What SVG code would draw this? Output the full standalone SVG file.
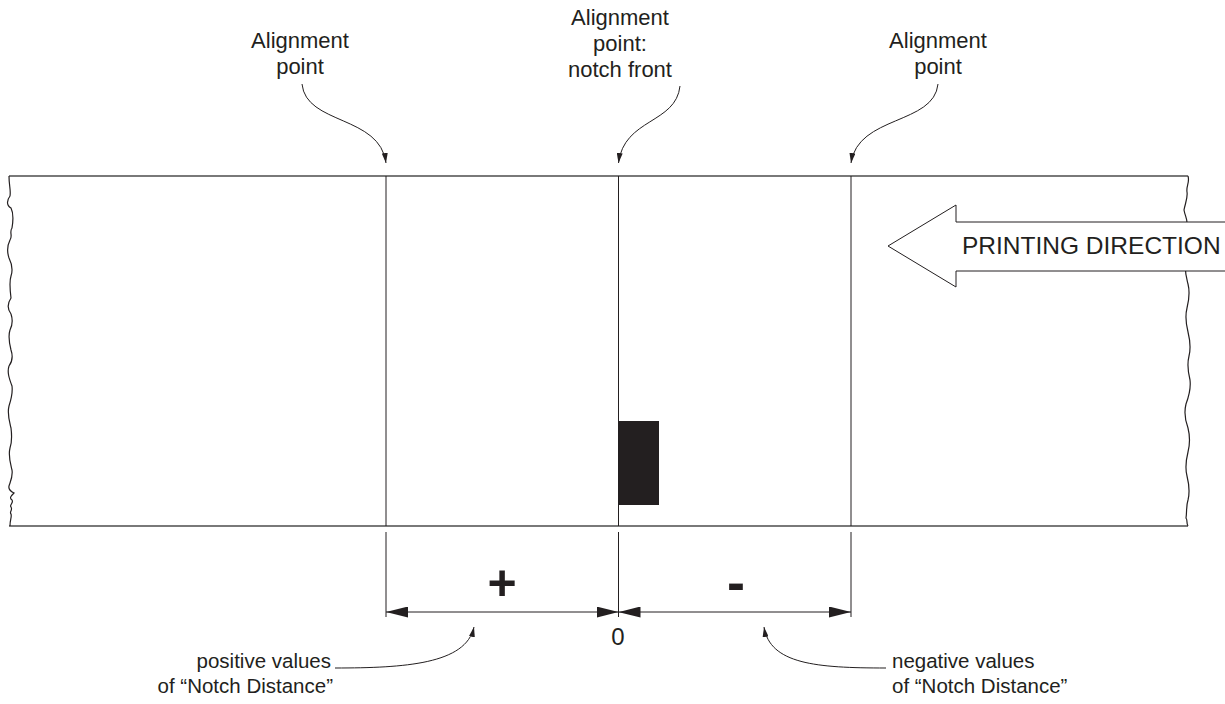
<svg xmlns="http://www.w3.org/2000/svg" width="1225" height="704" viewBox="0 0 1225 704">
<style>
text{font-family:"Liberation Sans",Arial,sans-serif;fill:#231f20}
.t{font-size:22px;text-anchor:middle}
.b{font-size:20.5px}
.ln{stroke:#231f20;stroke-width:1;fill:none}
.edge{stroke:#231f20;stroke-width:1.2;fill:none}
</style>
<defs>
<marker id="sa" viewBox="0 0 10 6" refX="10" refY="3" markerWidth="10" markerHeight="6" markerUnits="userSpaceOnUse" orient="auto"><path d="M0,0 L10,3 L0,6 Z" fill="#231f20"/></marker>
<marker id="da" viewBox="0 0 22 11" refX="22" refY="5.5" markerWidth="22" markerHeight="11" markerUnits="userSpaceOnUse" orient="auto"><path d="M0,0 L22,5.5 L0,11 Z" fill="#231f20"/></marker>
</defs>
<g id="strip">
<line x1="9" y1="176" x2="1188" y2="176" stroke="#4d4d4d" stroke-width="1.5"/>
<line x1="9" y1="526" x2="1188" y2="526" stroke="#4d4d4d" stroke-width="1.5"/>
<path class="edge" d="M9,176 C9,186 11,190 10,196 C7,200 6,205 11,208 C14,214 13,222 12,228 C9,232 13,236 10,240 C7,246 7,252 9,258 C12,264 13,270 11,276 C9,282 10,290 11,298 C7,304 8,310 11,314 C13,320 12,326 10,330 C8,336 9,342 11,350 C13,356 12,362 9,366 C7,372 9,378 12,386 C13,394 11,400 9,406 C7,414 9,420 11,428 C12,436 12,442 10,448 C8,456 10,462 12,470 C13,476 11,480 9,486 C8,490 12,492 14,493 C11,496 9,498 12,500 C14,503 9,505 11,507 C13,510 9,512 11,514 C12,517 10,519 10,526"/>
<path class="edge" d="M1188,176 C1190,182 1186,186 1187,192 C1188,198 1185,204 1184,210 C1185,216 1188,220 1187,226 C1186,240 1188,250 1186,262 C1184,270 1186,276 1188,284 C1190,292 1189,300 1187,308 C1185,316 1186,324 1188,332 C1190,340 1191,348 1189,356 C1187,364 1188,372 1190,380 C1191,388 1189,396 1186,404 C1184,412 1185,420 1188,428 C1190,436 1190,444 1188,452 C1186,460 1185,468 1187,476 C1189,484 1190,492 1188,500 C1186,506 1187,512 1186,518 C1188,521 1186,523 1188,526"/>
</g>
<g id="lines">
<line class="ln" x1="386" y1="176" x2="386" y2="526"/>
<line class="ln" x1="618.5" y1="176" x2="618.5" y2="526"/>
<line class="ln" x1="851" y1="176" x2="851" y2="526"/>
</g>
<g id="notch">
<rect x="619" y="421" width="40" height="84" fill="#231f20"/>
</g>
<g id="printing-direction">
<path d="M888,246 L956,205 L956,222 L1230,222 L1230,271 L956,271 L956,287 Z" fill="#fff" stroke="#231f20" stroke-width="1"/>
<text x="962" y="254" style="font-size:24.5px">PRINTING DIRECTION</text>
</g>
<g id="label-left">
<text class="t" x="300" y="48">Alignment</text>
<text class="t" x="300" y="74">point</text>
</g>
<g id="label-middle">
<text class="t" x="620" y="25">Alignment</text>
<text class="t" x="620" y="51">point:</text>
<text class="t" x="620" y="77">notch front</text>
</g>
<g id="label-right">
<text class="t" x="938" y="48">Alignment</text>
<text class="t" x="938" y="74">point</text>
</g>
<g id="dimension">
<line class="ln" x1="386" y1="532" x2="386" y2="617"/>
<line class="ln" x1="618.5" y1="532" x2="618.5" y2="617"/>
<line class="ln" x1="851" y1="532" x2="851" y2="617"/>
<text x="502" y="600" style="font-size:50px;font-weight:bold;text-anchor:middle">+</text>
<text x="736" y="601" style="font-size:54px;font-weight:bold;text-anchor:middle">-</text>
<text x="618" y="645" style="font-size:24px;text-anchor:middle">0</text>
</g>
<g id="label-positive">
<text class="b" x="331" y="668" text-anchor="end">positive values</text>
<text class="b" x="333" y="693" text-anchor="end">of “Notch Distance”</text>
</g>
<g id="label-negative">
<text class="b" x="892" y="668">negative values</text>
<text class="b" x="892" y="693">of “Notch Distance”</text>
</g>
<g id="connectors">
<path class="ln" d="M302,84 C306,125 380,115 386,163" marker-end="url(#sa)"/>
<path class="ln" d="M680,86 C676,124 624,118 618.5,163" marker-end="url(#sa)"/>
<path class="ln" d="M938,84 C934,125 858,115 851,163" marker-end="url(#sa)"/>
<line class="ln" x1="500" y1="612" x2="386" y2="612" marker-end="url(#da)"/>
<line class="ln" x1="500" y1="612" x2="618.5" y2="612" marker-end="url(#da)"/>
<line class="ln" x1="735" y1="612" x2="618.5" y2="612" marker-end="url(#da)"/>
<line class="ln" x1="735" y1="612" x2="851" y2="612" marker-end="url(#da)"/>
<path class="ln" d="M335,668 C405,668 466,664 474,627" marker-end="url(#sa)"/>
<path class="ln" d="M886,668 C816,668 770,664 764,627" marker-end="url(#sa)"/>
</g>
</svg>
